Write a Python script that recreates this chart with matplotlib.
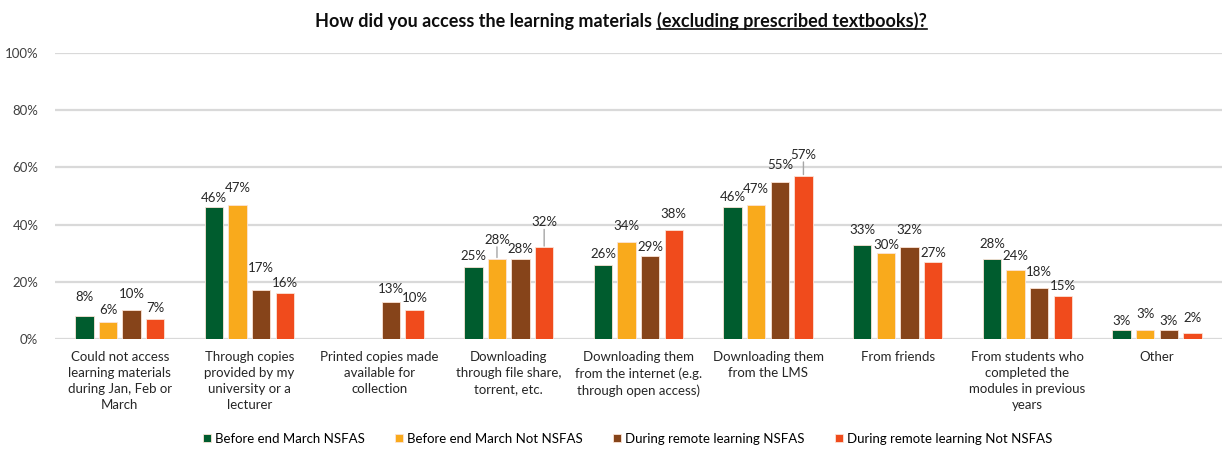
import numpy as np
import matplotlib.pyplot as plt
from matplotlib.lines import Line2D

plt.rcParams['font.family'] = ['Lato', 'DejaVu Sans']

categories = [
    "Could not access\nlearning materials\nduring Jan, Feb or\nMarch",
    "Through copies\nprovided by my\nuniversity or a\nlecturer",
    "Printed copies made\navailable for\ncollection",
    "Downloading\nthrough file share,\ntorrent, etc.",
    "Downloading them\nfrom the internet (e.g.\nthrough open access)",
    "Downloading them\nfrom the LMS",
    "From friends",
    "From students who\ncompleted the\nmodules in previous\nyears",
    "Other",
]
series_names = ["Before end March NSFAS", "Before end March Not NSFAS",
                "During remote learning NSFAS", "During remote learning Not NSFAS"]
before_nsfas = [8, 46, np.nan, 25, 26, 46, 33, 28, 3]
before_not_nsfas = [6, 47, np.nan, 28, 34, 47, 30, 24, 3]
remote_nsfas = [10, 17, 13, 28, 29, 55, 32, 18, 3]
remote_not_nsfas = [7, 16, 10, 32, 38, 57, 27, 15, 2]
series = [before_nsfas, before_not_nsfas, remote_nsfas, remote_not_nsfas]
colors = ["#005C2E", "#F9AA1C", "#86441A", "#F04B1C"]

# label offsets above bar top (pixels), mimicking the staggered labels
label_offsets = [
    [19, 9, 0, 11, 11, 10, 15, 15, 9],
    [12, 17, 0, 19, 16, 16, 8, 14, 16],
    [16, 22, 13, 10, 9, 17, 17, 16, 9],
    [11, 10, 12, 25, 16, 21, 9, 10, 15],
]
leaders = {(1, 3), (3, 3), (3, 5)}

fig = plt.figure(figsize=(12.23, 4.5), dpi=100)
ax = fig.add_axes([0.045, 0.2467, 0.954, 0.6356])

x = np.arange(len(categories))
pitch = 0.182
width = 0.142
for k, (vals, col) in enumerate(zip(series, colors)):
    xs = x + (k - 1.5) * pitch
    ax.bar(xs, vals, width, color=col, edgecolor="#fbe3d6", linewidth=0.6,
           label=series_names[k], zorder=3)
    for i, v in enumerate(vals):
        if np.isnan(v):
            continue
        off = label_offsets[k][i]
        ax.annotate(f"{v:.0f}%", (xs[i], v), xytext=(0, off),
                    textcoords="offset pixels", ha="center", va="center",
                    fontsize=9.5, color="#262626", zorder=4)
        if (k, i) in leaders:
            ax.annotate("", (xs[i], v), xytext=(0, off - 7),
                        textcoords="offset pixels",
                        arrowprops=dict(arrowstyle="-", color="#a6a6a6", lw=1,
                                        shrinkA=0, shrinkB=1))

ax.set_xlim(-0.5, len(categories) - 0.5)
ax.set_ylim(0, 100)
ax.set_yticks(range(0, 101, 20))
ax.set_yticklabels([f"{t}%" for t in range(0, 101, 20)])
ax.set_xticks(x)
ax.set_xticklabels(categories, fontsize=9.5, color="#262626", linespacing=1.4)
ax.tick_params(axis="both", length=0)
ax.tick_params(axis="y", labelsize=9.5, labelcolor="#404040", pad=12)
ax.tick_params(axis="x", pad=9)
ax.grid(axis="y", color="#d9d9d9", linewidth=1.6, zorder=0)
ax.set_axisbelow(True)
for s in ax.spines.values():
    s.set_visible(False)

ax.legend(loc="lower center", bbox_to_anchor=(0.513, -0.015), bbox_transform=fig.transFigure,
          ncol=4, frameon=False, fontsize=9.5, handlelength=0.6, handleheight=0.6,
          handletextpad=0.3, columnspacing=2.3)

# title with underlined second part
ty = 0.953
t1 = fig.text(0, ty, "How did you access the learning materials", fontsize=13,
              fontweight="bold", va="center", ha="left", color="#0d0d0d")
t2 = fig.text(0, ty, "(excluding prescribed textbooks)?", fontsize=13,
              fontweight="bold", va="center", ha="left", color="#0d0d0d")
r = fig.canvas.get_renderer()
W = fig.bbox.width
w1 = t1.get_window_extent(r).width
w2 = t2.get_window_extent(r).width
gap = 5
cx = 621
start = cx - (w1 + gap + w2) / 2
t1.set_x(start / W)
t2.set_x((start + w1 + gap) / W)
bb = t2.get_window_extent(r)
uy = (bb.y0 + 1) / fig.bbox.height
fig.add_artist(Line2D([bb.x0 / W, bb.x1 / W], [uy, uy], transform=fig.transFigure,
                      color="#0d0d0d", lw=1.2))

fig.savefig("out.png", dpi=100)
